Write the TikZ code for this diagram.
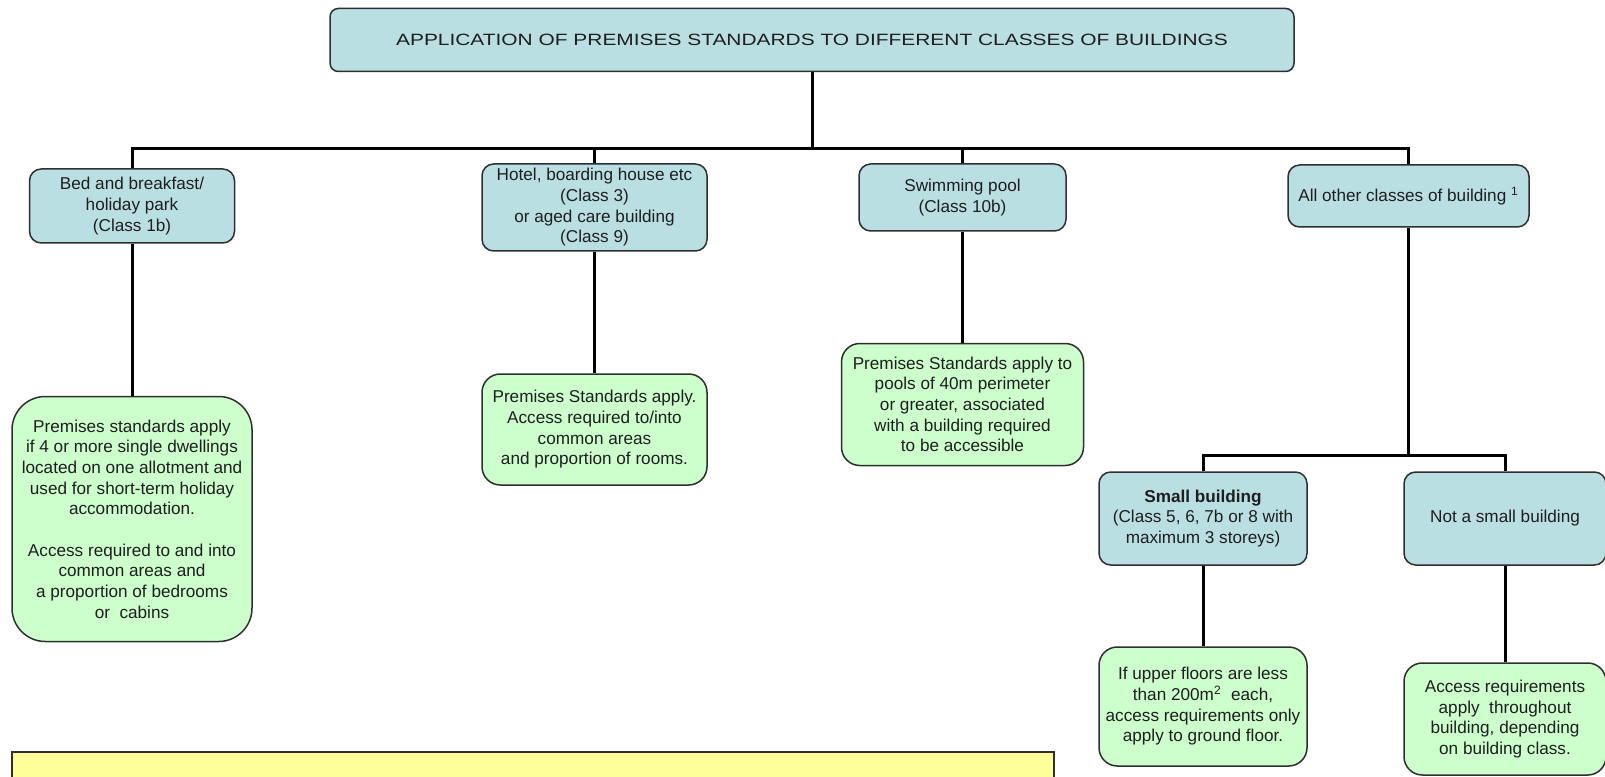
\documentclass[tikz,border=0pt]{standalone}
\usepackage{fontspec}
\setmainfont{Liberation Sans}
\newfontfamily\titlefont[FakeStretch=1.28]{Liberation Sans}
\definecolor{psBlue}{HTML}{BADFE3}
\definecolor{psGreen}{HTML}{CCFFCC}
\definecolor{psYellow}{HTML}{FFFF99}
\definecolor{psInk}{HTML}{1E1E1E}
\definecolor{psEdge}{HTML}{2E2E2E}
\tikzset{
  box/.style      ={draw=psEdge,line width=0.9pt,align=center,inner sep=2pt,
                    text=psInk,font=\fontsize{10.3}{12.4}\selectfont},
  sz/.style 2 args={minimum width=#1*0.6pt,minimum height=#2*0.6pt},
  titlebox/.style ={box,fill=psBlue,rounded corners=5pt,
                    font=\titlefont\fontsize{9.8}{12}\selectfont},
  classbox/.style ={box,fill=psBlue,rounded corners=7pt},
  rulebox/.style  ={box,fill=psGreen,rounded corners=11pt},
  notebox/.style  ={box,fill=psYellow},
  link/.style     ={draw=black,line width=1.8pt},
}

\begin{document}
\begin{tikzpicture}[x=0.6pt,y=-0.6pt]
\useasboundingbox (0,0) rectangle (1605,777);
\clip (0,0) rectangle (1605,777);

\node[titlebox,sz={964}{63}] (title) at (812,40)
  {APPLICATION OF PREMISES STANDARDS TO DIFFERENT CLASSES OF BUILDINGS};

%% building classes
\node[classbox,sz={205}{74}] (bb) at (132,206)
  {Bed and breakfast/\\holiday park\\(Class 1b)};
\node[classbox,sz={225}{87}] (hotel) at (594.5,207.5)
  {Hotel, boarding house etc\\(Class 3)\\or aged care building\\(Class 9)};
\node[classbox,sz={207}{67}] (pool) at (962.5,197.5)
  {Swimming pool\\(Class 10b)};
\node[classbox,sz={241}{62}] (other) at (1408.5,196)
  {All other classes of building \textsuperscript{1}};

%% what applies
\node[rulebox,rounded corners=20pt,sz={240}{245}] (bbrule) at (132,519)
  {Premises standards apply\\if 4 or more single dwellings\\located on one allotment and\\
   used for short-term holiday\\accommodation.\\[12.4pt]
   Access required to and into\\common areas and\\a proportion of bedrooms\\or\ \ cabins};
\node[rulebox,sz={225}{111}] (hotelrule) at (594.5,429.5)
  {Premises Standards apply.\\Access required to/into\\common areas\\and proportion of rooms.};
\node[rulebox,sz={242}{122}] (poolrule) at (962.5,404.5)
  {Premises Standards apply to\\pools of 40m perimeter\\or greater, associated\\
   with a building required\\to be accessible};

\node[classbox,sz={208}{93}] (small) at (1203,518.5)
  {\textbf{Small building}\\(Class 5, 6, 7b or 8 with\\maximum 3 storeys)};
\node[classbox,sz={202}{93}] (notsmall) at (1505,518.5)
  {Not a small building};
\node[rulebox,sz={208}{119}] (smallrule) at (1203,706.5)
  {If upper floors are less\\than 200m\textsuperscript{2}\ \ each,\\
   access requirements only\\apply to ground floor.};
\node[rulebox,sz={202}{112}] (notsmallrule) at (1505,719)
  {Access requirements\\apply\ \ throughout\\building, depending\\on building class.};

\node[notebox,sz={1042}{63}] (note) at (533,783.5) {};

\coordinate (bus) at (812,149);
\coordinate (subbus) at (1408.5,455);
\draw[link] (title) -- (bus);
\foreach \n in {bb,hotel,pool,other}
  \draw[link] (bus) -| (\n);
\draw[link] (bb) -- (bbrule);
\draw[link] (hotel) -- (hotelrule);
\draw[link] (pool) -- (poolrule);
\draw[link] (other) -- (subbus);
\draw[link] (subbus) -| (small);
\draw[link] (subbus) -| (notsmall);
\draw[link] (small) -- (smallrule);
\draw[link] (notsmall) -- (notsmallrule);
\end{tikzpicture}
\end{document}
